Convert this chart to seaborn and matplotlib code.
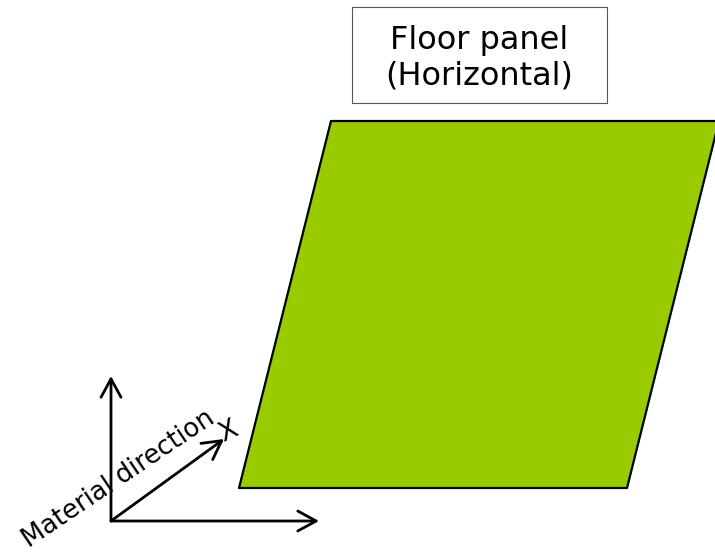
import matplotlib
matplotlib.use("Agg")
import matplotlib.pyplot as plt
from matplotlib.patches import Rectangle
import seaborn as sns
import pandas as pd

# panel outline (pixel coordinates of the drawing, y down)
panel_x = [331, 719, 627, 239, 331]
panel_y = [121, 121, 488, 488, 121]

# material axes: origin and arrow tips
origin = (111, 521)
arrow_tips_x = [111, 319, 224]
arrow_tips_y = [376, 521, 439]

title_lines = ["Floor panel", "(Horizontal)"]
direction_label = "Material direction"

sns.set_theme(style="white")
plt.rcParams["font.family"] = ["DejaVu Sans"]

fig = plt.figure(figsize=(7.15, 5.53), dpi=100)
ax = fig.add_axes([0, 0, 1, 1])

panel = pd.DataFrame({"x": panel_x, "y": panel_y})
ax.fill(panel["x"], panel["y"], color="#99CC00", zorder=1)
sns.lineplot(data=panel, x="x", y="y", sort=False, estimator=None,
             color="black", linewidth=1.6, ax=ax, zorder=2)
ax.set_xlim(0, 715)
ax.set_ylim(553, 0)
ax.axis("off")

for tx, ty in zip(arrow_tips_x, arrow_tips_y):
    ax.annotate("", xy=(tx, ty), xytext=origin,
                arrowprops=dict(arrowstyle="->,head_length=1.1,head_width=0.6",
                                color="black", lw=2, shrinkA=0, shrinkB=0))

ax.text(119, 479, direction_label, rotation=34, rotation_mode="anchor",
        ha="center", va="center", fontsize=18.5, color="black")
ax.text(228, 432, "X", rotation=25, ha="center", va="center",
        fontsize=19, color="black")

ax.add_patch(Rectangle((352, 7), 255, 96, facecolor="white",
                       edgecolor="#555555", linewidth=0.8, zorder=3))
ax.text(479, 58, "\n".join(title_lines), ha="center", va="center",
        fontsize=23, color="black", linespacing=1.2, zorder=4)

fig.savefig("out.png", dpi=100)
